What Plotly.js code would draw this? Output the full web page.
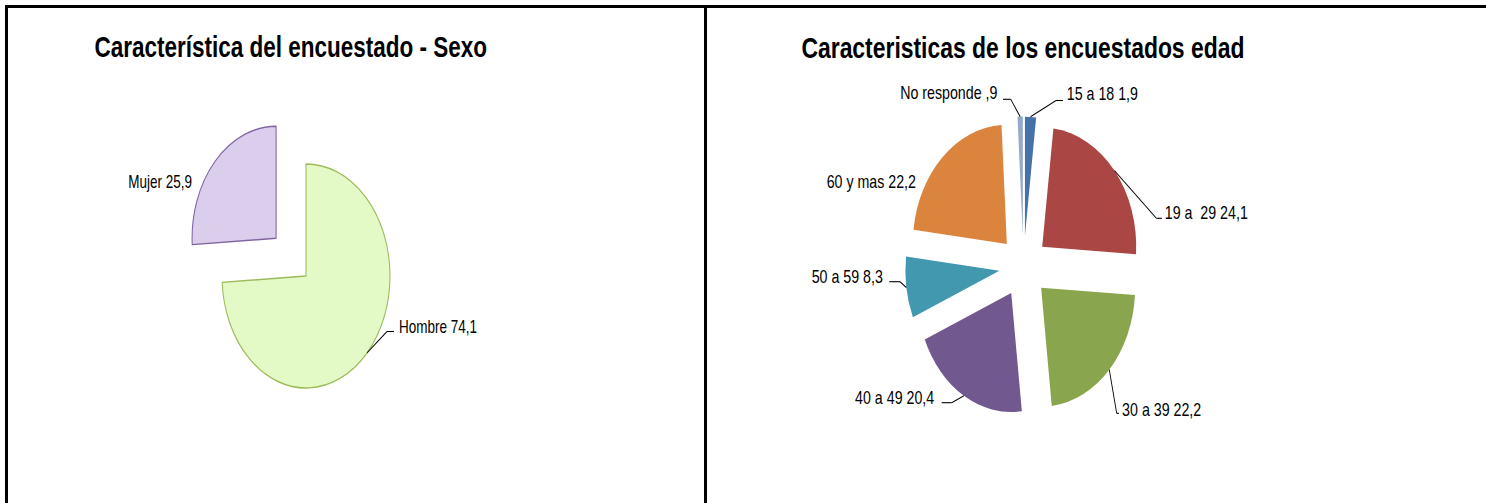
<!DOCTYPE html>
<html><head><meta charset="utf-8">
<script src="https://cdn.plot.ly/plotly-3.0.1.min.js"></script>
<style>
html,body{margin:0;padding:0;background:#fff;width:1486px;height:503px;overflow:hidden;position:relative}
.fig{position:absolute;top:0;height:503px;transform-origin:0 0}
.bd{position:absolute;background:#000}
</style></head><body>
<div id="left" class="fig"></div>
<div id="right" class="fig"></div>
<div class="bd" style="left:5px;top:5px;width:1481px;height:3px"></div>
<div class="bd" style="left:5px;top:5px;width:3px;height:498px"></div>
<div class="bd" style="left:704px;top:5px;width:3px;height:498px"></div>
<script>
// ---------- DATA ----------
const sexTitle = 'Característica del encuestado - Sexo';
const sexLabels = ['Hombre', 'Mujer'];
const sexValues = [74.1, 25.9];

const ageTitle = 'Caracteristicas de los encuestados edad';
const ageLabels = ['15 a 18', '19 a  29', '30 a 39', '40 a 49', '50 a 59', '60 y mas', 'No responde'];
const ageValues = [1.9, 24.1, 22.2, 20.4, 8.3, 22.2, 0.9];

// ---------- STYLE / LAYOUT ----------
const sexColors = ['#E4FAC6', '#DACEEC'];
const sexLines = ['#9BBB59', '#8064A2'];
const sexPull = [0, 0.49];
const ageColors = ['#4572A7', '#AA4643', '#89A54E', '#71588F', '#4198AF', '#DB843D', '#93A9CF'];
const agePull = [0.259, 0.259, 0.259, 0.259, 0.259, 0.259, 0.259];

const FONT = 'Liberation Sans, Arial, sans-serif';
const H = 503;

// label placement (reference-pixel positions), side = which side of text the anchor is on
const sexLabelPos = [
  {x: 398, y: 327, anchor: 'left', lead: [[387, 331.5], [394, 331.5]]},
  {x: 193, y: 182, anchor: 'right', lead: null}
];
const ageLabelPos = [
  {x: 1066, y: 94, anchor: 'left', lead: [[1056, 100.5], [1063, 100.5]]},
  {x: 1164, y: 213, anchor: 'left', lead: [[1156.5, 218.3], [1162, 218.3]]},
  {x: 1121, y: 410, anchor: 'left', lead: [[1116.7, 413.3], [1119, 413.3]]},
  {x: 935, y: 398, anchor: 'right', lead: [[951.7, 402.7], [941.7, 402.7]]},
  {x: 883.3, y: 276.5, anchor: 'right', lead: [[900, 281.7], [889.3, 281.7]]},
  {x: 917, y: 182, anchor: 'right', lead: null},
  {x: 998, y: 93, anchor: 'right', lead: [[1010.7, 99.3], [1003, 99.3]]}
];

function fmt(v) {
  return v.toFixed(1).replace('.', ',').replace(/^0,/, ',');
}

function build(cfg) {
  const W = cfg.W, s = cfg.s, off = cfg.offset;
  const cx = cfg.cxRef / s, cy = cfg.cyRef;
  const maxPull = Math.max.apply(null, cfg.pull);
  const half = cfg.r * (1 + maxPull);
  const domain = {
    x: [(cx - half) / W, (cx + half) / W],
    y: [(H - cy - half) / H, (H - cy + half) / H]
  };
  const trace = {
    type: 'pie', labels: cfg.labels, values: cfg.values, sort: false,
    direction: 'clockwise', rotation: 0, pull: cfg.pull,
    marker: {colors: cfg.colors, line: {color: cfg.lines, width: cfg.lineWidth}},
    textinfo: 'none', hoverinfo: 'skip', domain: domain, showlegend: false
  };
  const total = cfg.values.reduce((a, b) => a + b, 0);
  const toPX = (xRef) => ((xRef - off) / s) / W;
  const toPY = (yRef) => 1 - yRef / H;
  const annotations = [{
    text: '<b>' + cfg.title + '</b>', xref: 'paper', yref: 'paper',
    x: toPX(cfg.titleX), y: toPY(cfg.titleY), xanchor: 'center', yanchor: 'middle',
    showarrow: false, font: {family: FONT, size: cfg.titleSize, color: '#000'}
  }];
  const shapes = [];
  let cum = 0;
  cfg.values.forEach((v, i) => {
    const mid = (cum + v / 2) / total * 2 * Math.PI;
    cum += v;
    const lp = cfg.labelPos[i];
    annotations.push({
      text: (cfg.labels[i] + ' ' + fmt(v)).replace(/  /g, ' \u00a0'),
      xref: 'paper', yref: 'paper', x: toPX(lp.x), y: toPY(lp.y),
      xanchor: lp.anchor, yanchor: 'middle', showarrow: false, borderpad: 0,
      font: {family: FONT, size: cfg.labelSize, color: '#000'}
    });
    if (lp.lead) {
      const rr = (1 + cfg.pull[i]) * cfg.r;
      const tx = (cx + rr * Math.sin(mid)) / W;
      const ty = 1 - (cy - rr * Math.cos(mid)) / H;
      const e = lp.lead[0], h = lp.lead[1];
      const ln = {color: '#000', width: 1.1};
      shapes.push({type: 'line', xref: 'paper', yref: 'paper', x0: tx, y0: ty, x1: toPX(e[0]), y1: toPY(e[1]), line: ln});
      shapes.push({type: 'line', xref: 'paper', yref: 'paper', x0: toPX(e[0]), y0: toPY(e[1]), x1: toPX(h[0]), y1: toPY(h[1]), line: ln});
    }
  });
  const el = document.getElementById(cfg.id);
  el.style.left = off + 'px';
  el.style.width = W + 'px';
  el.style.transform = 'scaleX(' + s + ')';
  Plotly.newPlot(el, [trace], {
    width: W, height: H, margin: {l: 0, r: 0, t: 0, b: 0},
    paper_bgcolor: 'rgba(0,0,0,0)', plot_bgcolor: 'rgba(0,0,0,0)',
    showlegend: false, annotations: annotations, shapes: shapes
  }, {staticPlot: true, displayModeBar: false});
}

build({
  id: 'left', W: 940, s: 0.75, offset: 0, cxRef: 306, cyRef: 276, r: 112,
  labels: sexLabels, values: sexValues, colors: sexColors, lines: sexLines, lineWidth: 1.4,
  pull: sexPull, labelPos: sexLabelPos, labelSize: 18,
  title: sexTitle, titleX: 291, titleY: 47, titleSize: 30
});
build({
  id: 'right', W: 989, s: 0.79, offset: 705, cxRef: 318.5, cyRef: 266.4, r: 119,
  labels: ageLabels, values: ageValues, colors: ageColors, lines: ['#fff','#fff','#fff','#fff','#fff','#fff','#fff'], lineWidth: 0,
  pull: agePull, labelPos: ageLabelPos, labelSize: 18,
  title: ageTitle, titleX: 1023, titleY: 48, titleSize: 29
});
</script>
</body></html>
